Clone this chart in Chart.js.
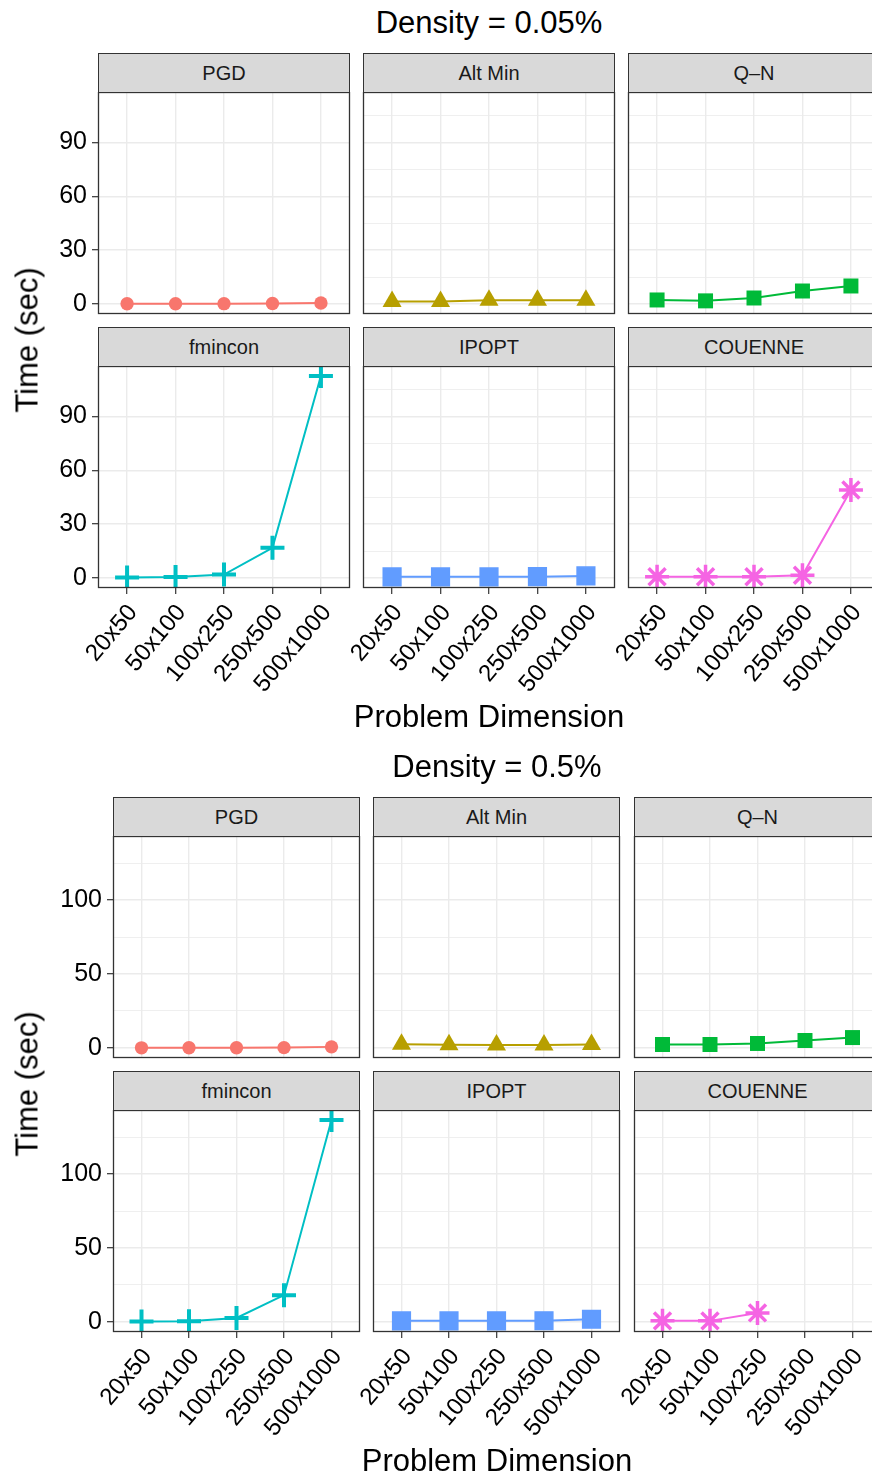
<!DOCTYPE html>
<html>
<head>
<meta charset="utf-8">
<script src="https://cdn.jsdelivr.net/npm/chart.js@4.4.1/dist/chart.umd.min.js"></script>
<style>
  body { margin: 0; background: #fff; }
  #page { position: relative; width: 872px; height: 1478px; overflow: hidden;
          font-family: 'Liberation Sans', Arial, sans-serif; }
  .strip { position: absolute; box-sizing: border-box; background: #d9d9d9;
           border: 1px solid #333; color: #1a1a1a; font-size: 20px; text-align: center; }
  .lbl { position: absolute; color: #000; font-size: 31px; line-height: 1;
         white-space: nowrap; transform: translate(-50%, -50%); }
  .lbl.rot { transform: translate(-50%, -50%) rotate(-90deg); }
  canvas { position: absolute; }
</style>
</head>
<body>
<div id="page"></div>
<script>
const dims = ['20x50', '50x100', '100x250', '250x500', '500x1000'];
const solvers = ['PGD', 'Alt Min', 'Q–N', 'fmincon', 'IPOPT', 'COUENNE'];
const colors = ['#F8766D', '#B79F00', '#00BA38', '#00BFC4', '#619CFF', '#F564E3'];

// Density = 0.05%
const lowPGD = [0.05, 0.1, 0.15, 0.2, 0.5];
const lowAltMin = [1.3, 1.4, 2.0, 2.0, 2.0];
const lowQN = [2.2, 1.7, 3.3, 7.2, 10.0];
const lowFmincon = [0.2, 0.5, 1.9, 16.8, 112.6];
const lowIpopt = [0.6, 0.6, 0.6, 0.7, 1.1];
const lowCouenne = [0.6, 0.6, 0.7, 1.5, 49.0];
const lowTicks = [0, 30, 60, 90];
const lowMinor = [15, 45, 75, 105];

// Density = 0.5%
const highPGD = [0.05, 0.1, 0.1, 0.2, 0.7];
const highAltMin = [2.4, 2.1, 2.0, 2.0, 2.3];
const highQN = [2.3, 2.3, 3.0, 5.0, 7.0];
const highFmincon = [0.3, 0.5, 2.7, 18.1, 136.6];
const highIpopt = [0.7, 0.7, 0.7, 0.8, 1.8];
const highCouenne = [0.7, 0.7, 6.1, null, null];
const highTicks = [0, 50, 100];
const highMinor = [25, 75, 125];

const markers = [
  { pointStyle: 'circle', pointRadius: 6.7, pointBorderWidth: 0 },
  { pointStyle: 'triangle', pointRadius: 11, pointBorderWidth: 0 },
  { pointStyle: 'rect', pointRadius: 10.6, pointBorderWidth: 0 },
  { pointStyle: 'cross', pointRadius: 12, pointBorderWidth: 4 },
  { pointStyle: 'rect', pointRadius: 12.5, pointBorderWidth: 1.5 },
  { pointStyle: 'star', pointRadius: 12, pointBorderWidth: 3.5 }
];

const figures = [
  { title: 'Density = 0.05%', cols: [98, 363, 628], pw: 252, stripTops: [53, 327], stripH: 39, ph: 222,
    series: [lowPGD, lowAltMin, lowQN, lowFmincon, lowIpopt, lowCouenne],
    major: lowTicks, minor: lowMinor, titleY: 22, xTitleY: 716 },
  { title: 'Density = 0.5%', cols: [113, 373, 634], pw: 247, stripTops: [797, 1071], stripH: 39, ph: 222,
    series: [highPGD, highAltMin, highQN, highFmincon, highIpopt, highCouenne],
    major: highTicks, minor: highMinor, titleY: 766, xTitleY: 1460 }
];

Chart.defaults.font.family = "'Liberation Sans', Arial, sans-serif";
const page = document.getElementById('page');

const frame = {
  id: 'frame',
  afterDatasetsDraw(chart) {
    const a = chart.chartArea, ctx = chart.ctx;
    ctx.save();
    ctx.strokeStyle = '#333';
    ctx.lineWidth = 1.3;
    ctx.strokeRect(a.left + 0.5, a.top + 0.5, a.right - a.left - 1, a.bottom - a.top - 1);
    ctx.restore();
  }
};

function addText(cls, text, x, y) {
  const d = document.createElement('div');
  d.className = cls;
  d.textContent = text;
  d.style.left = x + 'px';
  d.style.top = y + 'px';
  page.appendChild(d);
}

function panel(fig, r, c, yMin, yMax) {
  const k = r * 3 + c;
  const leftCol = c === 0, bottomRow = r === 1;
  const px = fig.cols[c], py = fig.stripTops[r] + fig.stripH;
  const L = 90, R = 10, B = 130;

  const strip = document.createElement('div');
  strip.className = 'strip';
  strip.textContent = solvers[k];
  strip.style.left = px + 'px';
  strip.style.top = fig.stripTops[r] + 'px';
  strip.style.width = fig.pw + 'px';
  strip.style.height = (fig.stripH + 1) + 'px';
  strip.style.lineHeight = (fig.stripH - 1) + 'px';
  page.appendChild(strip);

  const cv = document.createElement('canvas');
  cv.width = fig.pw + L + R;
  cv.height = fig.ph + B;
  cv.style.left = (px - L) + 'px';
  cv.style.top = py + 'px';
  page.appendChild(cv);

  const isMajor = ctx => ctx.tick && fig.major.includes(ctx.tick.value);
  const allY = fig.major.concat(fig.minor).sort((a, b) => a - b);

  new Chart(cv, {
    type: 'line',
    data: {
      datasets: [Object.assign({
        data: fig.series[k].map((v, i) => ({ x: i, y: v })),
        borderColor: colors[k],
        backgroundColor: colors[k],
        pointBackgroundColor: colors[k],
        pointBorderColor: colors[k],
        borderWidth: 2,
        tension: 0,
        spanGaps: false,
        clip: 0
      }, markers[k])]
    },
    options: {
      responsive: false,
      animation: false,
      devicePixelRatio: 1,
      layout: { autoPadding: false,
                padding: { left: leftCol ? 0 : L, right: R, top: 0, bottom: bottomRow ? 0 : B } },
      plugins: { legend: { display: false }, tooltip: { enabled: false } },
      scales: {
        x: {
          type: 'linear', min: -0.6, max: 4.6,
          afterBuildTicks: s => { s.ticks = dims.map((d, i) => ({ value: i })); },
          afterFit: s => { s.height = bottomRow ? B : 0; s.paddingLeft = 0; s.paddingRight = 0; },
          ticks: { display: bottomRow, autoSkip: false, minRotation: 50, maxRotation: 50,
                   color: '#000', font: { size: 24 }, padding: 5, labelOffset: 6,
                   callback: v => dims[v] },
          grid: { color: '#ebebeb', lineWidth: 1.4, drawTicks: bottomRow, tickLength: 6,
                  tickColor: '#333', tickWidth: 1.2 },
          border: { display: false }
        },
        y: {
          type: 'linear', min: yMin, max: yMax,
          afterBuildTicks: s => { s.ticks = allY.map(v => ({ value: v })); },
          afterFit: s => { s.width = leftCol ? L : 0; s.paddingTop = 0; s.paddingBottom = 0; },
          ticks: { display: leftCol, color: '#000', font: { size: 25 }, padding: 5,
                   callback: v => fig.major.includes(v) ? String(v) : '' },
          grid: { color: '#ebebeb', lineWidth: ctx => isMajor(ctx) ? 1.4 : 0.8,
                  drawTicks: leftCol, tickLength: 6,
                  tickColor: ctx => isMajor(ctx) ? '#333' : 'rgba(0,0,0,0)', tickWidth: 1.2 },
          border: { display: false }
        }
      }
    },
    plugins: [frame]
  });
}

figures.forEach(fig => {
  const top = Math.max(...fig.series.flat().filter(v => v !== null));
  const yMin = -0.05 * top, yMax = 1.05 * top;
  for (let r = 0; r < 2; r++) {
    for (let c = 0; c < 3; c++) panel(fig, r, c, yMin, yMax);
  }
  const cx = (fig.cols[0] + fig.cols[2] + fig.pw) / 2;
  addText('lbl', fig.title, cx, fig.titleY);
  addText('lbl', 'Problem Dimension', cx, fig.xTitleY);
  const p0 = fig.stripTops[0] + fig.stripH, p1 = fig.stripTops[1] + fig.stripH + fig.ph;
  addText('lbl rot', 'Time (sec)', 27, (p0 + p1) / 2);
});
</script>
</body>
</html>
